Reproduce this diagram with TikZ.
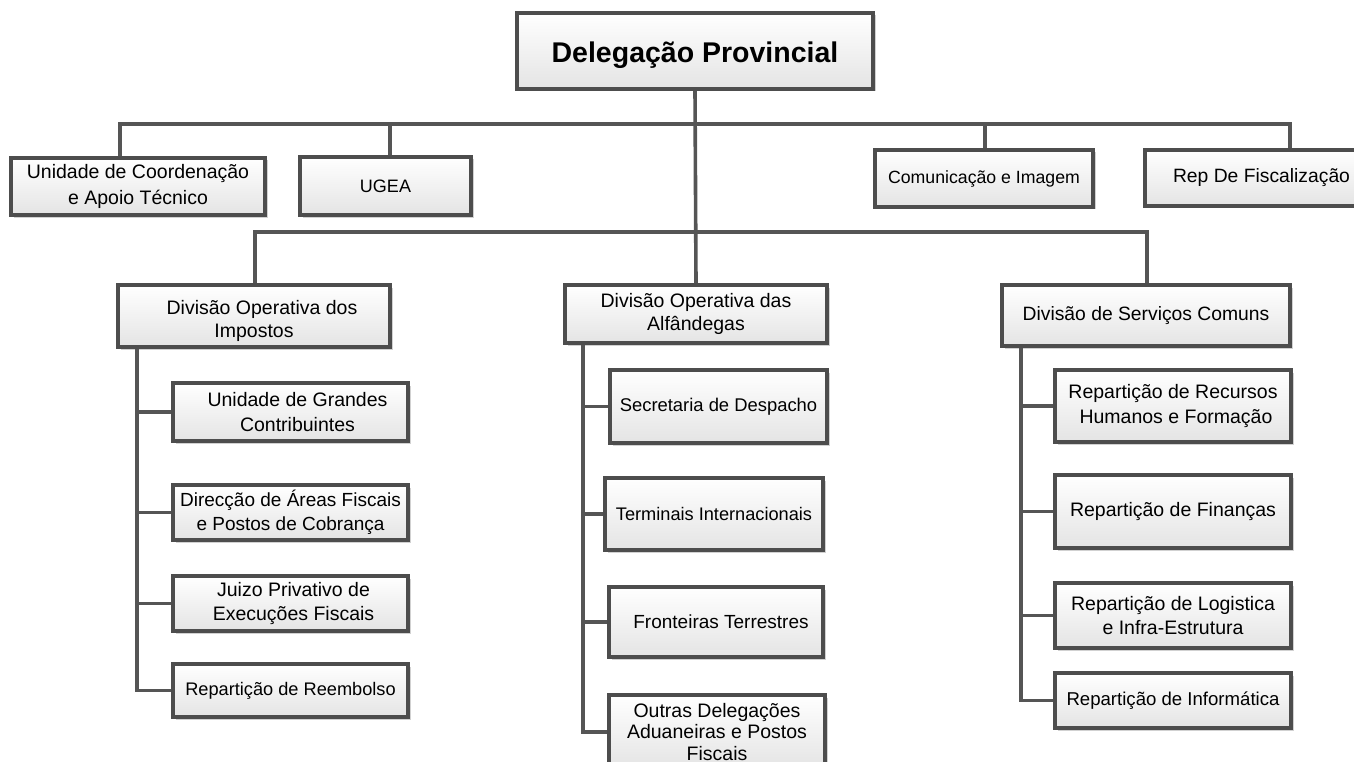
\documentclass[tikz,border=0pt]{standalone}
\usepackage{fontspec}
\setmainfont{Liberation Sans}
\usetikzlibrary{shadows}
\definecolor{edge}{HTML}{4D4D4D}
\definecolor{wire}{HTML}{555555}
\definecolor{boxbot}{HTML}{E4E4E4}
\newcommand{\fsz}[2]{\fontsize{#1pt}{#2pt}\selectfont}
\tikzset{
  orgbox/.style={draw=edge, line width=3.6pt, top color=white, bottom color=boxbot,
    drop shadow={shadow xshift=2.5pt, shadow yshift=-2.5pt, fill=black, opacity=0.18},
    inner sep=0pt, align=center, font=\fsz{19}{24}},
  wireline/.style={draw=wire, line width=3.6pt},
}
\begin{document}
\begin{tikzpicture}[x=1pt,y=-1pt]
\useasboundingbox (0,0) rectangle (1354,762);
\coordinate (s1) at (120,124);
\coordinate (s2) at (390,124);
\coordinate (s3) at (985,124);
\coordinate (s4) at (1290,124);
\coordinate (t1) at (255,232);
\coordinate (t3) at (1147,232);
\coordinate (v1) at (137,0);
\coordinate (v2) at (583,0);
\coordinate (v3) at (1021,0);

% nodes
\node[orgbox, minimum width=356pt, minimum height=76pt, text height=31pt, text depth=7pt, font=\bfseries\fsz{28.5}{34}] (top) at (695,51) {Delegação Provincial};

\node[orgbox, minimum width=254pt, minimum height=57pt, font=\fsz{19.5}{26.5}] (ucat) at (138,186.5) {Unidade de Coordenação\\e Apoio Técnico};
\node[orgbox, minimum width=171pt, minimum height=58pt, font=\fsz{18}{22}] (ugea) at (385.5,186) {UGEA};
\node[orgbox, minimum width=218pt, minimum height=57pt, font=\fsz{17.7}{22}] (com) at (984,178.5) {Comunicação e Imagem};
\node[orgbox, minimum width=233pt, minimum height=56pt, font=\fsz{19.3}{24}] (rep) at (1261.5,178) {Rep De Fiscalização};

\node[orgbox, minimum width=272pt, minimum height=62pt, font=\fsz{19.5}{22.5}] (dimp) at (254,316) {\rule{0pt}{24pt}\hspace*{16pt}Divisão Operativa dos\\Impostos};
\node[orgbox, minimum width=262pt, minimum height=58pt, font=\fsz{19.5}{23.5}] (dalf) at (696,314) {Divisão Operativa das\\Alfândegas};
\node[orgbox, minimum width=288pt, minimum height=61pt, font=\fsz{19.3}{24}] (dserv) at (1146,315.5) {Divisão de Serviços Comuns};

\node[orgbox, minimum width=235pt, minimum height=58pt, font=\fsz{19.5}{24.5}] (ugc) at (290.5,412) {\hspace*{14pt}Unidade de Grandes\\\hspace*{14pt}Contribuintes};
\node[orgbox, minimum width=235pt, minimum height=55pt, font=\fsz{19}{24}] (dir) at (290.5,512.5) {Direcção de Áreas Fiscais\\e Postos de Cobrança};
\node[orgbox, minimum width=235pt, minimum height=55pt, font=\fsz{19.5}{24}] (juizo) at (290.5,603.5) {\hspace*{6pt}Juizo Privativo de\\\hspace*{6pt}Execuções Fiscais};
\node[orgbox, minimum width=235pt, minimum height=53pt, font=\fsz{18.2}{22}] (reemb) at (290.5,690.5) {Repartição de Reembolso};

\node[orgbox, minimum width=217pt, minimum height=73pt, font=\fsz{18.4}{22}] (sec) at (718.5,406.5) {Secretaria de Despacho};
\node[orgbox, minimum width=218pt, minimum height=72pt, font=\fsz{18.2}{22}] (term) at (714,514) {Terminais Internacionais};
\node[orgbox, minimum width=214pt, minimum height=70pt, font=\fsz{19}{23}] (front) at (716,622) {\hspace*{10pt}Fronteiras Terrestres};
\node[orgbox, minimum width=216pt, minimum height=74pt, font=\fsz{19.5}{21.5}] (outras) at (717,732) {Outras Delegações\\Aduaneiras e Postos\\Fiscais};

\node[orgbox, minimum width=236pt, minimum height=72pt, font=\fsz{19.5}{24.5}] (rec) at (1173,406) {Repartição de Recursos\\\hspace*{6pt}Humanos e Formação};
\node[orgbox, minimum width=236pt, minimum height=73pt, font=\fsz{19.5}{24}] (fin) at (1173,511.5) {Repartição de Finanças};
\node[orgbox, minimum width=236pt, minimum height=65pt, font=\fsz{19.5}{24.5}] (log) at (1173,615.5) {Repartição de Logistica\\e Infra-Estrutura};
\node[orgbox, minimum width=236pt, minimum height=55pt, font=\fsz{18.6}{23}] (info) at (1173,700.5) {Repartição de Informática};

% connectors
\draw[wireline] (top.south) -- (dalf.north);
\draw[wireline] (s1 |- ucat.north) -- (s1) -- (s4) -- (s4 |- rep.north);
\draw[wireline] (s2) -- (s2 |- ugea.north);
\draw[wireline] (s3) -- (s3 |- com.north);
\draw[wireline] (t1 |- dimp.north) -- (t1) -- (t3) -- (t3 |- dserv.north);

\draw[wireline] (v1 |- dimp.south) |- (reemb.west);
\draw[wireline] (v1 |- ugc.west) -- (ugc.west);
\draw[wireline] (v1 |- dir.west) -- (dir.west);
\draw[wireline] (v1 |- juizo.west) -- (juizo.west);

\draw[wireline] (v2 |- dalf.south) |- (outras.west);
\draw[wireline] (v2 |- sec.west) -- (sec.west);
\draw[wireline] (v2 |- term.west) -- (term.west);
\draw[wireline] (v2 |- front.west) -- (front.west);

\draw[wireline] (v3 |- dserv.south) |- (info.west);
\draw[wireline] (v3 |- rec.west) -- (rec.west);
\draw[wireline] (v3 |- fin.west) -- (fin.west);
\draw[wireline] (v3 |- log.west) -- (log.west);
\end{tikzpicture}
\end{document}
